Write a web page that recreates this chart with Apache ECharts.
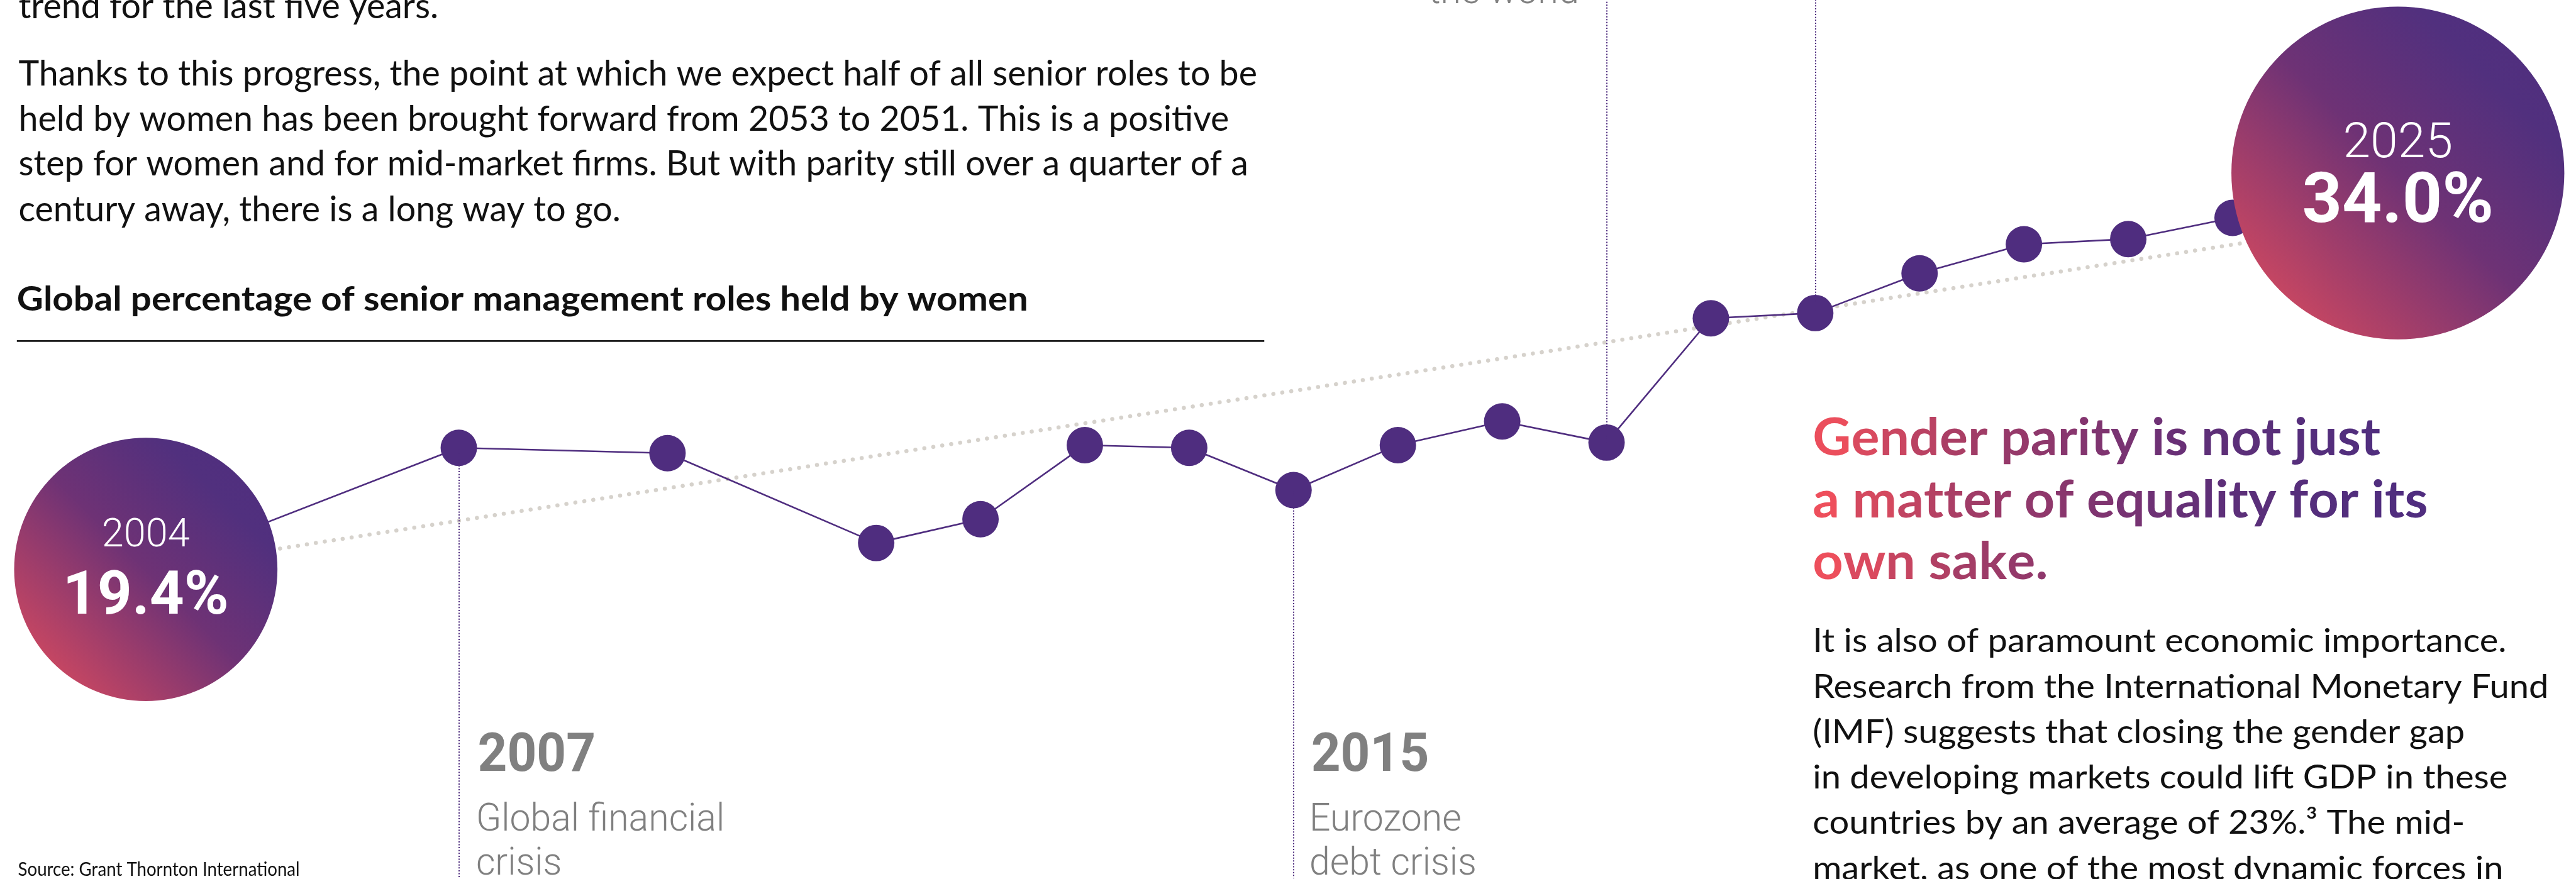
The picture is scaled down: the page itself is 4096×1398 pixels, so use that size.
<!DOCTYPE html>
<html><head><meta charset="utf-8">
<script src="https://cdn.jsdelivr.net/npm/echarts@6/dist/echarts.min.js"></script>
<style>html,body{margin:0;padding:0;background:#fff;overflow:hidden}#c{width:4096px;height:1398px}</style>
</head><body><div id="c"></div>
<script>
// ---------------- data ----------------
const years  = [2004, 2007, 2009, 2011, 2012, 2013, 2014, 2015, 2016, 2017, 2018, 2019, 2020, 2021, 2022, 2023, 2024, 2025];
const shares = [19.4, 24.0, 23.8, 20.4, 21.3, 24.1, 24.0, 22.4, 24.1, 25.0, 24.2, 28.9, 29.1, 30.6, 31.7, 31.9, 32.7, 34.0];
const trendYears  = [2004, 2025];
const trendValues = [19.4, 32.3];
const highlightYears  = [2004, 2025];
const highlightValues = [19.4, 34.0];
const eventYears = [2007, 2015, 2018, 2020];
const eventTitles = ['2007', '2015'];
const eventTexts = [['Global financial', 'crisis'], ['Eurozone', 'debt crisis']];
const topEventText = 'the world';
const introLines = [
  'trend for the last five years.',
  'Thanks to this progress, the point at which we expect half of all senior roles to be',
  'held by women has been brought forward from 2053 to 2051. This is a positive',
  'step for women and for mid-market firms. But with parity still over a quarter of a',
  'century away, there is a long way to go.'
];
const chartTitle = 'Global percentage of senior management roles held by women';
const headingLines = ['Gender parity is not just', 'a matter of equality for its', 'own sake.'];
const bodyLines = [
  'It is also of paramount economic importance.',
  'Research from the International Monetary Fund',
  '(IMF) suggests that closing the gender gap',
  'in developing markets could lift GDP in these',
  'countries by an average of 23%.\u00B3 The mid-',
  'market, as one of the most dynamic forces in'
];
const sourceText = 'Source: Grant Thornton International';

// ---------------- layout (reference pixel units, scaled by S) ----------------
const S = 0.865;
const REF_W = 4733, REF_H = 1615;
const X_ANCHOR = 268, Y_ANCHOR = 1047, YEAR_ANCHOR = 2004, VAL_ANCHOR = 19.4;
const PX_YEAR = 191.8, PX_PCT = 48.6;
const xMin = YEAR_ANCHOR - X_ANCHOR / PX_YEAR;
const xMax = YEAR_ANCHOR + (REF_W - X_ANCHOR) / PX_YEAR;
const yMax = VAL_ANCHOR + Y_ANCHOR / PX_PCT;
const yMin = VAL_ANCHOR - (REF_H - Y_ANCHOR) / PX_PCT;
const PURPLE = '#4f2d7f';
const GREY = '#808080';

// ---------------- text helpers ----------------
const mcv = document.createElement('canvas');
const mctx = mcv.getContext('2d');
function fontStr(w, size, fam) { return w + ' ' + size + 'px ' + fam; }
function measure(t, f) { mctx.font = f; mctx.textBaseline = 'alphabetic'; return mctx.measureText(t).width; }
function midOffset(w, size, fam) {
  mctx.font = fontStr(w, size, fam);
  mctx.textBaseline = 'alphabetic';
  const a = mctx.measureText('H').actualBoundingBoxAscent;
  mctx.textBaseline = 'middle';
  const b = mctx.measureText('H').actualBoundingBoxAscent;
  mctx.textBaseline = 'alphabetic';
  return a - b;
}
function para(lines, xF, baselines, sizeF, fam, weight, color, fitIdx, fitW, align) {
  const size = sizeF * S;
  const f = fontStr(weight, size, fam);
  const sx = fitW ? (fitW * S) / measure(lines[fitIdx], f) : 1;
  const k = midOffset(weight, size, fam);
  return lines.map((l, i) => ({
    type: 'text', x: xF * S, y: baselines[i] * S - k, scaleX: sx, silent: true, z: 20,
    style: { text: l, fontSize: size, fontFamily: fam, fontWeight: weight, fill: color,
             align: align || 'left', textAlign: align || 'left', verticalAlign: 'middle', textVerticalAlign: 'middle' }
  }));
}
const gradStops = [[3332, [245, 81, 91]], [3620, [162, 60, 102]], [3900, [122, 51, 114]], [4060, [95, 47, 120]], [4300, [82, 46, 125]], [4470, [79, 45, 127]]];
function colorAt(x) {
  if (x <= gradStops[0][0]) return 'rgb(' + gradStops[0][1].join(',') + ')';
  for (let i = 1; i < gradStops.length; i++) {
    if (x <= gradStops[i][0]) {
      const t = (x - gradStops[i - 1][0]) / (gradStops[i][0] - gradStops[i - 1][0]);
      const a = gradStops[i - 1][1], b = gradStops[i][1];
      return 'rgb(' + a.map((v, j) => Math.round(v + (b[j] - v) * t)).join(',') + ')';
    }
  }
  return 'rgb(' + gradStops[gradStops.length - 1][1].join(',') + ')';
}
function gradPara(lines, xF, baselines, sizeF, fitIdx, fitW) {
  const size = sizeF * S, fam = 'Lato', w = 700;
  const f = fontStr(w, size, fam);
  const widths = lines.map(l => Array.from(l).reduce((s, ch) => s + measure(ch, f), 0));
  const sx = fitW * S / widths[fitIdx];
  const k = midOffset(w, size, fam);
  return lines.map((l, li) => {
    let acc = 0, txt = '';
    const rich = {};
    Array.from(l).forEach((ch, i) => {
      const cw = measure(ch, f);
      const cx = xF + (acc + cw / 2) * sx / S;
      acc += cw;
      rich['c' + i] = { fill: colorAt(cx), fontSize: size, fontFamily: fam, fontWeight: w };
      txt += '{c' + i + '|' + ch + '}';
    });
    return { type: 'text', x: xF * S, y: baselines[li] * S - k, scaleX: sx, silent: true, z: 20,
      style: { text: txt, rich: rich, fontSize: size, fontFamily: fam, fontWeight: w,
               align: 'left', textAlign: 'left', verticalAlign: 'middle', textVerticalAlign: 'middle' } };
  });
}

// ---------------- graphic texts ----------------
let graphics = [];
graphics = graphics.concat(para(introLines, 34, [34, 157, 240, 323, 407], 65.6, 'Lato', 400, '#111111', 1, 2277));
graphics = graphics.concat(para([chartTitle], 31, [571], 61.4, 'Lato', 700, '#111111', 0, 1859));
graphics.push({ type: 'line', silent: true, z: 20, shape: { x1: 31 * S, y1: 627 * S, x2: 2324 * S, y2: 627 * S },
  style: { stroke: '#1a1a1a', lineWidth: 3 * S } });
graphics = graphics.concat(gradPara(headingLines, 3332, [837, 951, 1065], 95, 1, 1131));
graphics = graphics.concat(para(bodyLines, 3332, [1199, 1283, 1366, 1450, 1533, 1617], 60, 'Lato', 400, '#111111', 1, 1353));
graphics = graphics.concat(para([sourceText], 33, [1610], 35, 'Lato', 400, '#111111', 0, 518));
// event annotations
const annX = [878, 2410];
const yearFit = 217, descFitW = 457;
{
  const descSize = 70 * S;
  const descScale = descFitW * S / measure(eventTexts[0][0], fontStr(300, descSize, 'Roboto'));
  const yrScale = yearFit * S / measure(eventTitles[0], fontStr(700, 98.5 * S, 'Roboto'));
  eventTitles.forEach((t, i) => {
    const el = para([t], annX[i], [1417], 98.5, 'Roboto', 700, GREY, 0, 0)[0];
    el.scaleX = yrScale; graphics.push(el);
    para(eventTexts[i], annX[i] - 3, [1527, 1608], 70, 'Roboto', 300, GREY, 0, 0).forEach(e => { e.scaleX = descScale; graphics.push(e); });
  });
  const tw = para([topEventText], 2903, [6], 70, 'Roboto', 300, GREY, 0, 0, 'right')[0];
  tw.scaleX = descScale; graphics.push(tw);
}

// ---------------- series ----------------
const valueAt = y => shares[years.indexOf(y)];
const eventDir = ['down', 'down', 'up', 'up'];
const bubbleGrad = { type: 'linear', x: 0, y: 1, x2: 1, y2: 0, colorStops: [
  { offset: 0, color: '#e84e5b' }, { offset: 0.5, color: '#6e3275' }, { offset: 0.78, color: '#51307e' }, { offset: 1, color: '#4f2d7f' }] };
const bubbleStyle = [
  { size: 484, offset: [0, 0], yr: 73, val: 111, l1: 108, l2: 122 },
  { size: 612, offset: [112, -19.4], yr: 91, val: 128, l1: 116, l2: 104 }
];
const bubbleData = highlightYears.map((y, i) => {
  const b = bubbleStyle[i];
  return {
    value: [y, highlightValues[i]],
    symbolSize: b.size * S,
    symbolOffset: [b.offset[0] * S, b.offset[1] * S],
    label: { rich: {
      y: { fontFamily: 'Roboto', fontWeight: 300, fontSize: b.yr * S, lineHeight: b.l1 * S, color: '#ffffff' },
      v: { fontFamily: 'Roboto', fontWeight: 700, fontSize: b.val * S, lineHeight: b.l2 * S, color: '#ffffff' } } }
  };
});

const option = {
  animation: false,
  backgroundColor: '#ffffff',
  grid: { left: 0, top: 0, width: REF_W * S, height: REF_H * S, containLabel: false },
  xAxis: { type: 'value', min: xMin, max: xMax, show: false },
  yAxis: { type: 'value', min: yMin, max: yMax, show: false },
  series: [
    { type: 'line', z: 1, silent: true, symbol: 'none', clip: false,
      data: trendYears.map((y, i) => [y, trendValues[i]]),
      lineStyle: { color: '#d6d2cc', width: 6.5, type: [0.1, 14.3], cap: 'round' } },
    { type: 'line', z: 2, silent: true, symbol: 'none', clip: false,
      data: eventYears.map(y => [y, valueAt(y)]),
      lineStyle: { opacity: 0 },
      markLine: { silent: true, symbol: ['none', 'none'], label: { show: false }, animation: false,
        lineStyle: { color: PURPLE, width: 2, type: [2, 2.6] },
        data: eventYears.map((y, i) => [{ coord: [y, valueAt(y)] }, { coord: [y, eventDir[i] === 'down' ? yMin : yMax] }]) } },
    { type: 'line', z: 3, silent: true, clip: false, showAllSymbol: true,
      data: years.map((y, i) => [y, shares[i]]),
      symbol: 'circle', symbolSize: 67 * S,
      itemStyle: { color: PURPLE },
      lineStyle: { color: PURPLE, width: 3 * S } },
    { type: 'scatter', z: 5, silent: true, clip: false,
      data: bubbleData,
      itemStyle: { color: bubbleGrad, opacity: 1 },
      label: { show: true, position: 'inside',
        formatter: p => '{y|' + p.value[0] + '}\n{v|' + p.value[1].toFixed(1) + '%}' } }
  ],
  graphic: { elements: graphics }
};
const chart = echarts.init(document.getElementById('c'), null, { renderer: 'canvas', width: 4096, height: 1398 });
chart.setOption(option);
</script>
</body></html>
